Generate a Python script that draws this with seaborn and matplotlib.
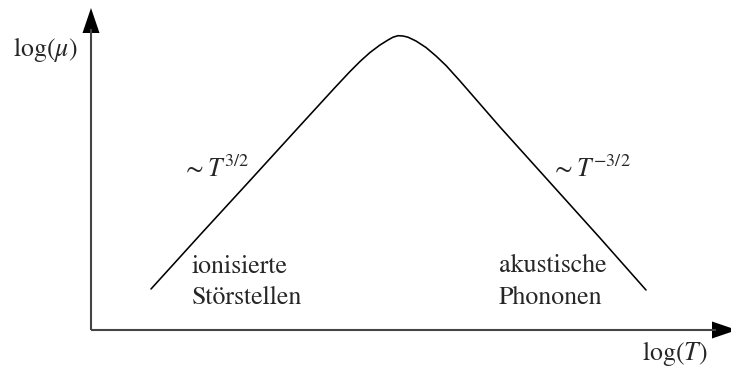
import matplotlib
matplotlib.use("Agg")
import matplotlib.pyplot as plt
import seaborn as sns
import pandas as pd

# Mobility vs. temperature (log-log sketch, arbitrary units)
log_T = [151, 200, 250, 300, 335, 350, 360, 370, 380, 388, 393, 398,
         403, 408, 416, 426, 436, 446, 460, 500, 550, 600, 646]
log_mu = [78, 132, 186.5, 241.3, 279.5, 295.5, 305.5, 314.5, 322, 327, 329.8, 331.3,
          331.0, 329.8, 326, 319.5, 311, 301.5, 286, 240, 184.5, 129, 77]

axis_label_x = r"$\log(T)$"
axis_label_y = r"$\log(\mu)$"
slope_left = r"$\sim T^{3/2}$"
slope_right = r"$\sim T^{-3/2}$"
region_left = ["ionisierte", "Störstellen"]
region_right = ["akustische", "Phononen"]

sns.set_theme(style="white")
plt.rcParams["font.family"] = ["STIXGeneral", "DejaVu Serif"]
plt.rcParams["mathtext.fontset"] = "stix"

W, H = 731, 367
fig = plt.figure(figsize=(W / 100, H / 100), dpi=100)
ax = fig.add_axes([0, 0, 1, 1])
ax.set_xlim(0, W)
ax.set_ylim(0, H)
ax.axis("off")

df = pd.DataFrame({"logT": log_T, "logmu": log_mu})
sns.lineplot(data=df, x="logT", y="logmu", sort=False, estimator=None,
             color="black", linewidth=1.15, ax=ax)

# coordinate axes with arrowheads
ox, oy = 91, 37
axis_col = "#444444"
ax.plot([ox, 716], [oy, oy], color=axis_col, lw=1.5, solid_capstyle="butt")
ax.plot([ox, ox], [oy, 338], color=axis_col, lw=1.5, solid_capstyle="butt")
hw = 8.5
ax.fill([ox - hw, ox, ox + hw], [H - 33, H - 8, H - 33], color="black", lw=0)
ax.fill([712, 737, 712], [oy + hw, oy, oy - hw], color="black", lw=0)

fs = 18.6
ax.text(13, H - 56, axis_label_y, fontsize=fs, ha="left", va="baseline")
ax.text(642, H - 360, axis_label_x, fontsize=fs, ha="left", va="baseline")
ax.text(182, H - 177, slope_left, fontsize=fs, ha="left", va="baseline")
ax.text(551, H - 177, slope_right, fontsize=fs, ha="left", va="baseline")
ax.text(192, H - 273, region_left[0], fontsize=fs, ha="left", va="baseline")
ax.text(192, H - 304, region_left[1], fontsize=fs, ha="left", va="baseline")
ax.text(499, H - 272, region_right[0], fontsize=fs, ha="left", va="baseline")
ax.text(499, H - 304, region_right[1], fontsize=fs, ha="left", va="baseline")

fig.savefig("out.png", dpi=100)
